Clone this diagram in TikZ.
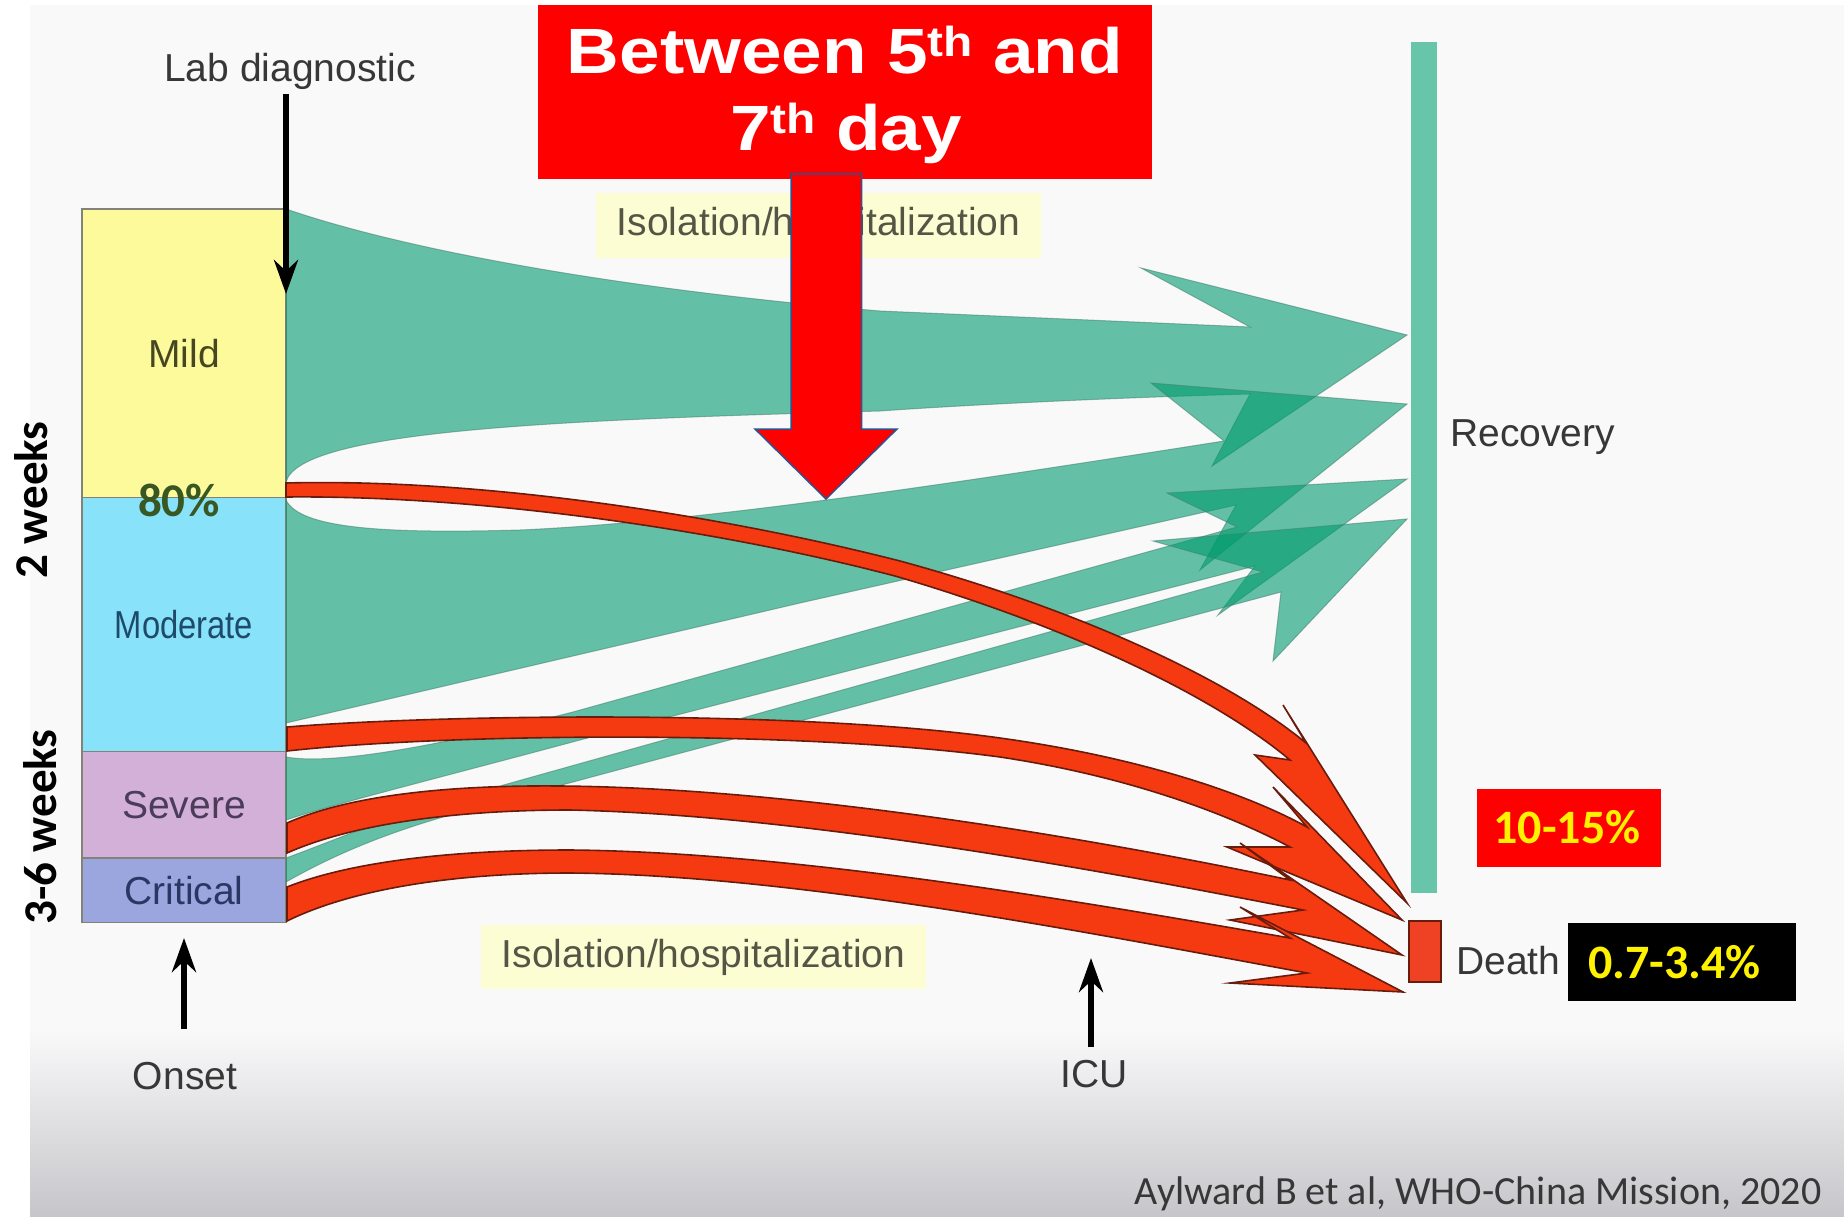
\documentclass[tikz,border=0pt]{standalone}
\usepackage{fontspec}
\setmainfont{Liberation Sans}
\newfontfamily\carlito{Carlito}
\usepackage{graphicx}
\usetikzlibrary{arrows.meta}

\definecolor{panel}{RGB}{249,249,250}
\definecolor{panelbot}{RGB}{198,198,202}
\definecolor{tealA}{RGB}{0,155,110}
\definecolor{tealedge}{RGB}{70,130,110}
\definecolor{tealbar}{RGB}{105,197,170}
\definecolor{redflow}{RGB}{245,58,18}
\definecolor{redline}{RGB}{105,28,12}
\definecolor{mildc}{RGB}{252,250,155}
\definecolor{modc}{RGB}{135,226,250}
\definecolor{sevc}{RGB}{210,176,216}
\definecolor{critc}{RGB}{155,166,222}
\definecolor{boxline}{RGB}{130,130,120}
\definecolor{labgray}{RGB}{55,55,55}
\definecolor{isoY}{RGB}{253,253,212}
\definecolor{isotext}{RGB}{85,85,70}
\definecolor{arrowblue}{RGB}{47,82,143}
\definecolor{darkgreen}{RGB}{56,87,35}
\definecolor{mildtxt}{RGB}{70,70,35}
\definecolor{modtxt}{RGB}{30,75,105}
\definecolor{sevtxt}{RGB}{75,60,90}
\definecolor{crittxt}{RGB}{40,55,100}
\definecolor{deathred}{RGB}{239,65,35}

\tikzset{
  gtext/.style={font=\fontsize{39}{42}\selectfont, text=labgray, inner sep=0pt},
  bigtext/.style={font=\carlito\bfseries\fontsize{47}{50}\selectfont, inner sep=0pt},
  sevbox/.style={draw=boxline, line width=1.5pt, inner sep=0pt, minimum width=204pt, font=\fontsize{39}{42}\selectfont},
  tealflow/.style={fill=tealA, fill opacity=0.6, draw=tealedge, draw opacity=0.55, line width=1pt, line join=miter},
  redarrow/.style={fill=redflow, draw=redline, line width=1.6pt, line join=miter, miter limit=20},
  blackarrow/.style={draw=black, line width=5.5pt, -{Stealth[length=34pt,width=24pt]}},
  isobox/.style={fill=isoY, inner sep=0pt, minimum width=445pt, minimum height=64pt, text=isotext, font=\fontsize{39}{42}\selectfont},
}

\begin{document}
\begin{tikzpicture}[x=1pt,y=-1pt]
\useasboundingbox (0,0) rectangle (1844,1217);
\fill[white] (0,0) rectangle (1844,1217);
\fill[panel] (30,5) rectangle (1844,1217);
\shade[top color=panel, bottom color=panelbot] (30,1030) rectangle (1844,1217);

% severity boxes
\node[sevbox, fill=mildc, minimum height=288.5pt, text=mildtxt] (mild) at (184,353.25) {Mild};
\node[sevbox, fill=modc, minimum height=254pt, text=modtxt] (moderate) at (184,624.5) {\scalebox{0.84}[1]{Moderate}};
\node[sevbox, fill=sevc, minimum height=106.3pt, text=sevtxt] (severe) at (184,804.65) {Severe};
\node[sevbox, fill=critc, minimum height=64.9pt, text=crittxt] (critical) at (184,890.25) {Critical};

% teal recovery flows
\path[tealflow] (286,209) .. controls (420,255) and (650,292) .. (880,311) -- (1250,327) -- (1141,268) -- (1407,335) -- (1212,466) -- (1250,394)
  .. controls (1100,398) and (950,406) .. (880,411) .. controls (560,420) and (300,430) .. (286,482) -- cycle;
\path[tealflow] (286,500) .. controls (300,528) and (380,534) .. (520,530) .. controls (700,522) and (950,484) .. (1224,441) -- (1151,383) -- (1407,404) -- (1200,570) -- (1236,505) -- (800,603) -- (286,723) -- cycle;
\path[tealflow] (286,757) .. controls (330,765) and (430,748) .. (573,712) -- (1237,527) -- (1167,493) -- (1407,479) -- (1218,615) -- (1255,566) -- (580,740) .. controls (450,775) and (330,805) .. (286,820) -- cycle;
\path[tealflow] (286,858) .. controls (330,842) and (380,820) .. (450,800) -- (1263,572) -- (1153,541) -- (1407,519) -- (1273,661) -- (1281,592) -- (450,815) .. controls (380,835) and (330,857) .. (286,882) -- cycle;

% red death flows
\path[redarrow] (286,483) .. controls (480,478) and (720,515) .. (900,561) .. controls (1080,610) and (1230,680) .. (1306,743)
  -- (1283,705) -- (1407,903) -- (1255,755) -- (1290,760)
  .. controls (1215,697) and (1070,627) .. (895,576) .. controls (720,530) and (480,495) .. (286,497) -- cycle;
\path[redarrow] (287,727) .. controls (450,714) and (800,710) .. (1000,738) .. controls (1130,756) and (1240,790) .. (1307,827)
  -- (1273,787) -- (1402,920) -- (1227,847) -- (1290,847)
  .. controls (1220,810) and (1120,775) .. (1000,757) .. controls (800,730) and (450,733) .. (287,751) -- cycle;
\path[redarrow] (287,823) .. controls (350,795) and (450,785) .. (560,786) .. controls (800,788) and (1100,840) .. (1290,880)
  -- (1240,843) -- (1402,955) -- (1230,920) -- (1303,910)
  .. controls (1100,870) and (800,815) .. (570,810) .. controls (450,810) and (350,825) .. (287,853) -- cycle;
\path[redarrow] (287,887) .. controls (350,862) and (450,850) .. (570,850) .. controls (800,852) and (1100,905) .. (1290,938)
  -- (1240,907) -- (1403,992) -- (1230,983) -- (1307,973)
  .. controls (1100,935) and (800,875) .. (570,873) .. controls (450,873) and (350,890) .. (287,921) -- cycle;

% outcomes
\node[fill=tealbar, minimum width=26pt, minimum height=851pt, inner sep=0pt] (recbar) at (1424,467.5) {};
\node[fill=deathred, draw=redline, line width=2pt, minimum width=32pt, minimum height=61pt, inner sep=0pt] (deathbox) at (1425.25,951.6) {};
\node[gtext, anchor=base west] (rectxt) at (1450,446) {Recovery};
\node[gtext, anchor=base west] (deathtxt) at (1456,974) {Death};

% percentages
\node[fill=red, minimum width=184pt, minimum height=78pt, inner sep=0pt] (p1box) at (1569,828) {};
\node[bigtext, text=yellow, font=\carlito\bfseries\fontsize{48}{50}\selectfont] (p1) at (1567,827) {10-15\%};
\node[fill=black, minimum width=228pt, minimum height=78pt, inner sep=0pt] (p2box) at (1682,961.6) {};
\node[bigtext, text=yellow, font=\carlito\bfseries\fontsize{48}{50}\selectfont] (p2) at (1674.5,962) {0.7-3.4\%};
\node[bigtext, text=darkgreen] (p80) at (179,500) {80\%};

% side labels
\node[bigtext, rotate=90, text=black] (w2) at (31,500) {2 weeks};
\node[bigtext, rotate=90, text=black] (w36) at (40,827) {3-6 weeks};

% isolation labels
\node[isobox] (iso1) at (818.5,225.5) {Isolation/hospitalization};
\node[isobox] (iso2) at (703.5,957) {Isolation/hospitalization};

% time arrows
\node[gtext, anchor=base] (lab) at (290,82) {Lab diagnostic};
\coordinate (labA) at (286,94);
\coordinate (labB) at (286,294);
\draw[blackarrow] (labA) -- (labB);
\node[gtext] (onset) at (185,1076) {Onset};
\coordinate (onA) at (184,1029);
\coordinate (onB) at (184,938);
\draw[blackarrow] (onA) -- (onB);
\node[gtext] (icu) at (1094,1074) {ICU};
\coordinate (icuA) at (1091,1047);
\coordinate (icuB) at (1091,958);
\draw[blackarrow] (icuA) -- (icuB);

% citation
\node[anchor=base east, inner sep=0pt, text=labgray, font=\carlito\fontsize{40}{42}\selectfont] (cite) at (1821.6,1204) {Aylward B et al, WHO-China Mission, 2020};

% title and big arrow
\node[fill=red, minimum width=613.5pt, minimum height=174pt, inner sep=0pt] (titlebox) at (844.75,92) {};
\path[fill=red, draw=arrowblue, line width=1.5pt] (791,174) -- (861.5,174) -- (861.5,429) -- (897,429) -- (826,499) -- (755,429) -- (791,429) -- cycle;
\node[anchor=base, text=white, inner sep=0pt, font=\bfseries\fontsize{64}{64}\selectfont] (title1) at (845,73.5) {\scalebox{1.14}[1]{Between 5\raisebox{17pt}{\fontsize{42}{42}\selectfont th} and}};
\node[anchor=base, text=white, inner sep=0pt, font=\bfseries\fontsize{64}{64}\selectfont] (title2) at (846,151) {\scalebox{1.14}[1]{7\raisebox{17pt}{\fontsize{42}{42}\selectfont th} day}};
\end{tikzpicture}
\end{document}
